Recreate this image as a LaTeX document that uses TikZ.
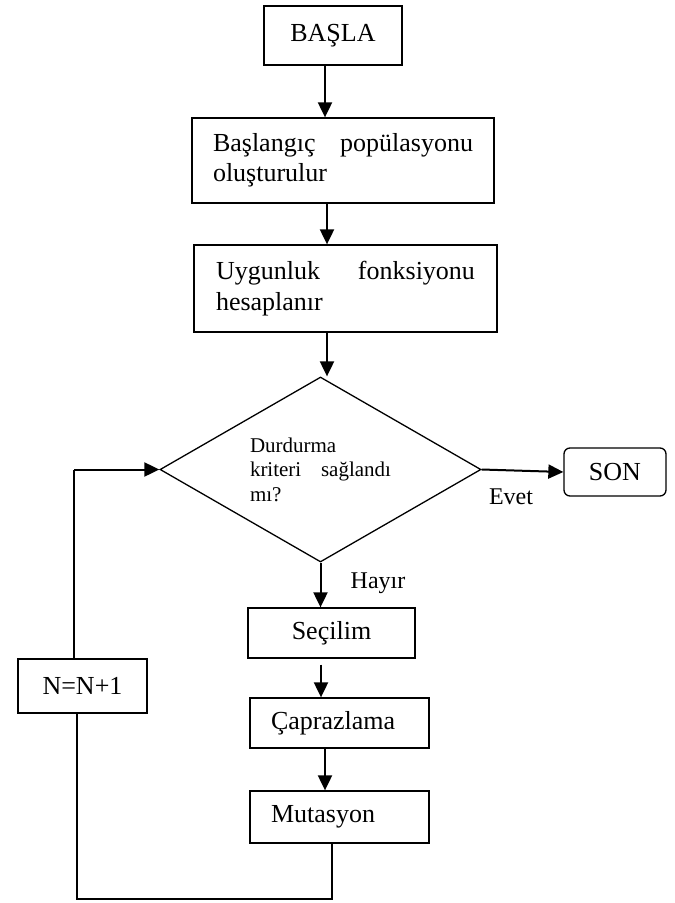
\documentclass[tikz,border=0pt]{standalone}
\usepackage{fontspec}
\setmainfont{Liberation Serif}
\usetikzlibrary{arrows.meta,shapes.geometric}
\begin{document}
\begin{tikzpicture}[x=1pt,y=-1pt,
  box/.style={draw,line width=1.3pt,inner sep=0pt,font=\fontsize{26}{30}\selectfont},
  arr/.style={line width=2pt,-{Triangle[length=15pt,width=14pt]}},
  ln/.style={line width=1.3pt},
  lbl/.style={inner sep=0pt,font=\fontsize{24}{28}\selectfont}]
\useasboundingbox (0,0) rectangle (675,903);
% nodes
\node[box,minimum width=138pt,minimum height=59pt] (start) at (333,35.5) {BAŞLA};
\node[box,minimum width=302pt,minimum height=85pt,align=left] (init) at (343,160.5)
  {\hbox to 260pt{Başlangıç\hfill popülasyonu}\\oluşturulur};
\node[box,minimum width=303pt,minimum height=87pt,align=left,font=\fontsize{26}{31}\selectfont] (calc) at (345.5,288.5)
  {\hbox to 259pt{Uygunluk\hfill fonksiyonu}\\hesaplanır};
\node[draw,diamond,aspect=1.735,line width=1.3pt,minimum width=321pt,minimum height=185pt,inner sep=0pt,
  font=\fontsize{21}{24.5}\selectfont,align=left] (dec) at (320.5,469.5)
  {Durdurma\\\hbox to 141pt{kriteri\hfill sağlandı}\\mı?};
\node[box,rounded corners=6pt,minimum width=102pt,minimum height=48pt] (son) at (615,472) {SON};
\node[box,minimum width=167pt,minimum height=50pt] (sec) at (331.5,633) {Seçilim};
\node[box,minimum width=179pt,minimum height=50pt,text width=137pt,align=left] (cap) at (339.5,723) {Çaprazlama};
\node[box,minimum width=179pt,minimum height=52pt,text width=137pt,align=left] (mut) at (339.5,817) {Mutasyon};
\node[box,minimum width=129pt,minimum height=54pt] (nn) at (82.5,686) {N=N+1};
\node[lbl] (evet) at (511,497) {Evet};
\node[lbl] (hayir) at (378,583) {Hayır};
% helper coordinates
\coordinate (s1) at (325,0);
\coordinate (s2) at (327,0);
\coordinate (s3) at (321,0);
\coordinate (s4) at (332,0);
\coordinate (lt) at (74,0);
\coordinate (lb) at (77,0);
\coordinate (bot) at (0,899);
% connectors
\draw[arr] (start.south -| s1) -- (init.north -| s1);
\draw[arr] (init.south -| s2) -- (calc.north -| s2);
\draw[arr] (calc.south -| s2) -- (dec.north -| s2);
\draw[arr] (dec.east) -- (son.west);
\draw[arr] (dec.south) -- (sec.north -| dec.south);
\draw[arr,shorten <=6pt] (sec.south -| s3) -- (cap.north -| s3);
\draw[arr] (cap.south -| s1) -- (mut.north -| s1);
\draw[ln] (mut.south -| s4) -- (s4 |- bot) -- (lb |- bot) -- (nn.south -| lb);
\draw[ln] (nn.north -| lt) -- (lt |- dec.west);
\draw[arr] (lt |- dec.west) -- (dec.west);
\end{tikzpicture}
\end{document}
